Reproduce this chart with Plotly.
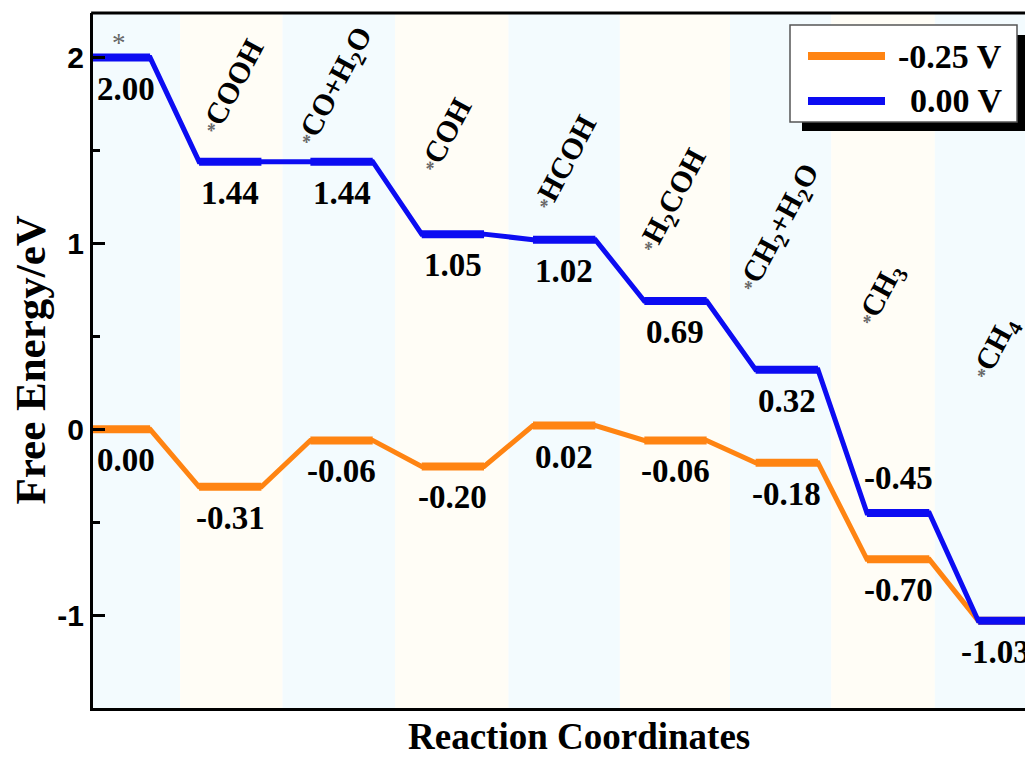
import plotly.graph_objects as go

# ---- data -------------------------------------------------------------
states = ["", "COOH", "CO+H<sub>2</sub>O", "COH", "HCOH", "H<sub>2</sub>COH",
          "CH<sub>2</sub>+H<sub>2</sub>O", "CH<sub>3</sub>", "CH<sub>4</sub>"]
energy_000V = [2.00, 1.44, 1.44, 1.05, 1.02, 0.69, 0.32, -0.45, -1.03]
energy_025V = [0.00, -0.31, -0.06, -0.20, 0.02, -0.06, -0.18, -0.70, -1.03]
series_names = ["-0.25 V", "0.00 V"]
y_ticks = [-1, 0, 1, 2]

# ---- layout constants -------------------------------------------------
W, H = 1025, 758
M_L, M_R, M_T, M_B = 93, 0, 13, 50
HALF = 0.28                      # half width of a free-energy level
X_RANGE = [-0.233, 8.14]
Y_RANGE = [-1.5, 2.24]
STRIPE_EDGES = [X_RANGE[0], 0.55, 1.47, 2.48, 3.5, 4.5, 5.49, 6.4, 7.33, X_RANGE[1]]
STRIPE_COLORS = ["#f3fbfe", "#fffdf6"]
LABEL_X = [0.0, 1.01, 1.95, 2.93, 4.0, 4.98, 5.93, 6.85, 7.88]
LABEL_Y = [2.08, 1.845, 1.845, 1.585, 1.435, 1.23, 1.08, 0.72, 0.435]
ORANGE, BLUE = "#ff8412", "#0c0cf2"
SERIF = "Liberation Serif"
SANS = "Liberation Sans"

PW = W - M_L - M_R
PH = H - M_T - M_B


def px_x(p):
    return (p - M_L) / PW


def px_y(p):
    return (H - M_B - p) / PH


def path(levels):
    xs, ys = [], []
    for i, e in enumerate(levels):
        xs += [i - HALF, i + HALF]
        ys += [e, e]
    return xs, ys


def plateaus(levels):
    xs, ys = [], []
    for i, e in enumerate(levels):
        xs += [i - HALF, i + HALF, None]
        ys += [e, e, None]
    return xs, ys


fig = go.Figure()

for levels, color, name in [(energy_025V, ORANGE, series_names[0]),
                            (energy_000V, BLUE, series_names[1])]:
    x, y = path(levels)
    fig.add_trace(go.Scatter(x=x, y=y, mode="lines", name=name,
                             line=dict(color=color, width=5), showlegend=False,
                             hoverinfo="skip"))
    x, y = plateaus(levels)
    fig.add_trace(go.Scatter(x=x, y=y, mode="lines", name=name,
                             line=dict(color=color, width=8), showlegend=False))

shapes = []
# alternating background bands, one per intermediate
for k in range(len(STRIPE_EDGES) - 1):
    shapes.append(dict(type="rect", xref="x", yref="paper",
                       x0=STRIPE_EDGES[k], x1=STRIPE_EDGES[k + 1], y0=0, y1=1,
                       fillcolor=STRIPE_COLORS[k % 2], line=dict(width=0),
                       layer="below"))
# top frame line
shapes.append(dict(type="line", xref="paper", yref="paper", x0=-0.002, x1=1.01,
                   y0=1, y1=1, line=dict(color="black", width=3)))
# legend box with drop shadow
shapes.append(dict(type="rect", xref="paper", yref="paper",
                   x0=px_x(802), x1=px_x(1032), y0=px_y(131), y1=px_y(35),
                   fillcolor="black", line=dict(width=0)))
shapes.append(dict(type="rect", xref="paper", yref="paper",
                   x0=px_x(790), x1=px_x(1017), y0=px_y(122), y1=px_y(25),
                   fillcolor="white", line=dict(color="#555555", width=1.5)))
legend_rows = [(ORANGE, series_names[0], 56), (BLUE, series_names[1], 101)]
for color, _, ypx in legend_rows:
    shapes.append(dict(type="line", xref="paper", yref="paper",
                       x0=px_x(808), x1=px_x(885), y0=px_y(ypx), y1=px_y(ypx),
                       line=dict(color=color, width=8)))

annotations = []
for color, name, ypx in legend_rows:
    annotations.append(dict(xref="paper", yref="paper", x=px_x(1004), y=px_y(ypx),
                            text=name, showarrow=False, xanchor="right",
                            yanchor="middle",
                            font=dict(family=SERIF, size=34, color="black",
                                      weight="bold")))

# value labels
val_font = dict(family=SERIF, size=33, color="black", weight="bold")
for levels in (energy_000V, energy_025V):
    for i, e in enumerate(levels):
        if levels is energy_025V and i == len(levels) - 1:
            continue  # shared end state, labelled once
        above = levels is energy_000V and i == 7
        xshift = 7 if i == 0 else (-14 if i == len(levels) - 1 else 0)
        annotations.append(dict(x=i, y=e, xref="x", yref="y",
                                text=f"{e:.2f}", showarrow=False,
                                xanchor="center", yanchor="middle",
                                yshift=35 if above else -31, xshift=xshift,
                                font=val_font))

# intermediate labels
star = '<span style="font-size:19px;color:#666666">*</span>'
for i, name in enumerate(states):
    if name:
        annotations.append(dict(x=LABEL_X[i], y=LABEL_Y[i], xref="x", yref="y",
                                text=star + name, textangle=-62, showarrow=False,
                                xanchor="center", yanchor="middle",
                                font=dict(family=SERIF, size=30, color="black",
                                          weight="bold")))
    else:
        annotations.append(dict(x=LABEL_X[i], y=LABEL_Y[i], xref="x", yref="y",
                                text="*", showarrow=False,
                                xanchor="center", yanchor="middle",
                                font=dict(family=SERIF, size=27, color="#666666")))

# axis titles
annotations.append(dict(xref="paper", yref="paper", x=px_x(30), y=0.5,
                        text="Free Energy/eV", textangle=-90, showarrow=False,
                        xanchor="center", yanchor="middle",
                        font=dict(family=SERIF, size=43, color="black",
                                  weight="bold")))
annotations.append(dict(xref="paper", yref="paper", x=px_x(579), y=px_y(736),
                        text="Reaction Coordinates", showarrow=False,
                        xanchor="center", yanchor="middle",
                        font=dict(family=SERIF, size=37, color="black",
                                  weight="bold")))

fig.update_layout(
    width=W, height=H,
    margin=dict(l=M_L, r=M_R, t=M_T, b=M_B, pad=0),
    paper_bgcolor="white", plot_bgcolor="white",
    showlegend=False,
    shapes=shapes, annotations=annotations,
    xaxis=dict(range=X_RANGE, showgrid=False, zeroline=False, showticklabels=False,
               ticks="", showline=True, linecolor="black", linewidth=3),
    yaxis=dict(range=Y_RANGE, showgrid=False, zeroline=False,
               tickvals=y_ticks, ticktext=[str(v) for v in y_ticks],
               ticks="inside", ticklen=12, tickwidth=3, tickcolor="black",
               showline=True, linecolor="black", linewidth=3,
               tickfont=dict(family=SANS, size=30, color="black", weight="bold"),
               minor=dict(dtick=0.5, tick0=0, ticks="inside", ticklen=7,
                          tickwidth=3, tickcolor="black", showgrid=False)),
)

fig.write_html("out.html")
